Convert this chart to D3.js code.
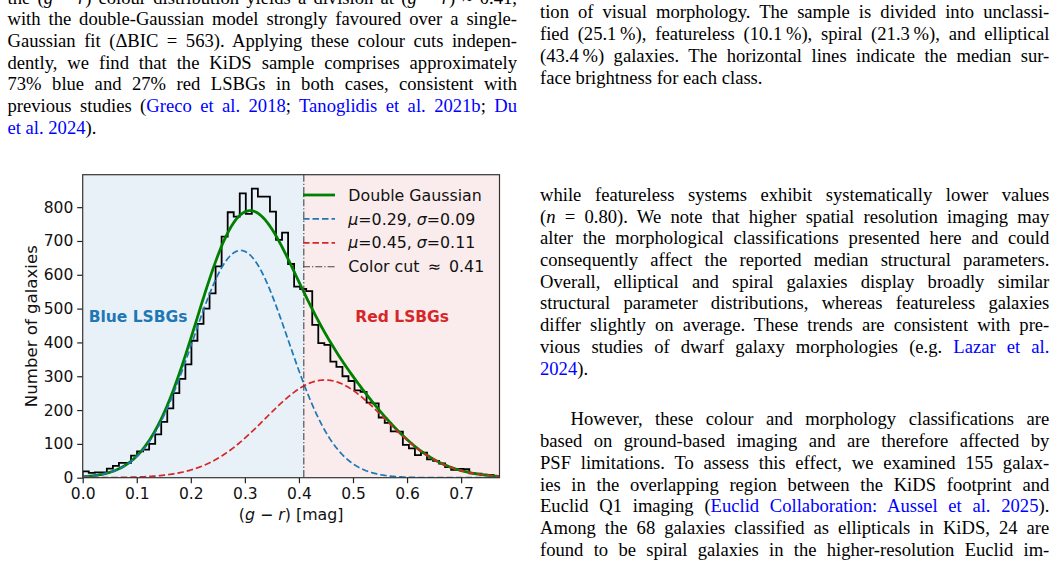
<!DOCTYPE html>
<html>
<head>
<meta charset="utf-8">
<title>KiDS LSBG colour distribution</title>
<script src="https://cdn.jsdelivr.net/npm/d3@7"></script>
<style>
  html, body { margin:0; padding:0; background:#fff; }
  body { width:1057px; height:561px; position:relative; overflow:hidden; }
  .ln { position:absolute; white-space:nowrap; font-family:"Liberation Serif","Times New Roman",serif;
        font-size:18.6px; line-height:21.7px; color:#000; }
  .ln .cite { color:#0000ff; }
  #fig { position:absolute; left:0; top:0; }
  #fig text { font-family:"DejaVu Sans", sans-serif; font-size:15.5px; fill:#111; }
</style>
</head>
<body>
<svg id="fig" width="1057" height="561"></svg>
<script>
// histogram counts per bin, (g-r) from 0 to 0.771, 69 bins
const counts = [19,14,16,16,27,35,44,44,65,78,
                83,100,128,165,205,250,292,335,405,455,
                500,545,625,713,785,772,841,780,855,831,
                831,787,703,725,632,565,558,552,452,398,
                393,343,328,300,286,258,254,222,220,178,
                162,137,136,97,87,67,74,54,50,42,
                31,23,26,25,13,12,9,8,4];
const histRange = [0, 0.771];
const xTicks = [0, 0.1, 0.2, 0.3, 0.4, 0.5, 0.6, 0.7];
const yTicks = [0, 100, 200, 300, 400, 500, 600, 700, 800];
// double gaussian fit components
const fitMu = [0.292, 0.448];
const fitSigma = [0.088, 0.110];
const fitAmp = [672, 289];
const colorCut = 0.409;
const legendLabels = ["Double Gaussian", "μ=0.29, σ=0.09", "μ=0.45, σ=0.11", "Color cut \u2009≈\u2009 0.41"];

// page text, one entry per printed line
const leftLines = [
  'the (<i>g</i> − <i>r</i>) colour distribution yields a division at (<i>g</i> − <i>r</i>) ≈ 0.41,',
  'with the double-Gaussian model strongly favoured over a single-',
  'Gaussian fit (ΔBIC = 563). Applying these colour cuts indepen-',
  'dently, we find that the KiDS sample comprises approximately',
  '73% blue and 27% red LSBGs in both cases, consistent with',
  'previous studies (<span class="cite">Greco et al. 2018</span>; <span class="cite">Tanoglidis et al. 2021b</span>; <span class="cite">Du</span>',
  '<span class="cite">et al. 2024</span>).'
];
const rightTop = [
  'tion of visual morphology. The sample is divided into unclassi-',
  'fied (25.1\u2009%), featureless (10.1\u2009%), spiral (21.3\u2009%), and elliptical',
  '(43.4\u2009%) galaxies. The horizontal lines indicate the median sur-',
  'face brightness for each class.'
];
const rightMid = [
  'while featureless systems exhibit systematically lower values',
  '(<i>n</i> = 0.80). We note that higher spatial resolution imaging may',
  'alter the morphological classifications presented here and could',
  'consequently affect the reported median structural parameters.',
  'Overall, elliptical and spiral galaxies display broadly similar',
  'structural parameter distributions, whereas featureless galaxies',
  'differ slightly on average. These trends are consistent with pre-',
  'vious studies of dwarf galaxy morphologies (e.g. <span class="cite">Lazar et al.</span>',
  '<span class="cite">2024</span>).'
];
const rightBot = [
  'However, these colour and morphology classifications are',
  'based on ground-based imaging and are therefore affected by',
  'PSF limitations. To assess this effect, we examined 155 galax-',
  'ies in the overlapping region between the KiDS footprint and',
  'Euclid Q1 imaging (<span class="cite">Euclid Collaboration: Aussel et al. 2025</span>).',
  'Among the 68 galaxies classified as ellipticals in KiDS, 24 are',
  'found to be spiral galaxies in the higher-resolution Euclid im-'
];

// text blocks
function block(lines, x0, w, base0, step, indentFirst, lastLoose) {
  lines.forEach((t, i) => {
    const ind = (i === 0 && indentFirst) ? indentFirst : 0;
    d3.select("body").append("div")
      .attr("class", "ln")
      .attr("data-w", w - ind)
      .attr("data-last", (lastLoose && i === lines.length - 1) ? 1 : 0)
      .style("left", (x0 + ind) + "px")
      .style("top", (base0 + i * step - 17.1) + "px")
      .html(t);
  });
}
block(leftLines, 7.5, 509.5, 25.4 - 21.65, 21.65, 0, true);
block(rightTop, 540, 509.3, 18.5, 21.7, 0, true);
block(rightMid, 540, 509.3, 201, 21.7, 0, true);
block(rightBot, 540, 509.3, 425.5, 21.7, 30.5, false);

function justify() {
  d3.selectAll(".ln").each(function() {
    if (this.dataset.last === "1") return;
    this.style.wordSpacing = "0px";
    const W = +this.dataset.w;
    const w = this.getBoundingClientRect().width;
    const n = (this.textContent.match(/ /g) || []).length;
    if (n) this.style.wordSpacing = ((W - w) / n) + "px";
  });
}

// chart
const svg = d3.select("#fig");
const plot = {left: 82.7, right: 499.5, top: 174.7, bottom: 477.7};
const x = d3.scaleLinear().domain(histRange).range([plot.left, plot.right]);
const y = d3.scaleLinear().domain([0, 896]).range([plot.bottom, plot.top]);

svg.append("clipPath").attr("id", "clip").append("rect")
   .attr("x", plot.left).attr("y", plot.top)
   .attr("width", plot.right - plot.left).attr("height", plot.bottom - plot.top);

const g = svg.append("g").attr("clip-path", "url(#clip)");

g.append("rect")
 .attr("x", x(histRange[0])).attr("y", plot.top)
 .attr("width", x(colorCut) - x(histRange[0])).attr("height", plot.bottom - plot.top)
 .attr("fill", "rgb(233,241,248)");
g.append("rect")
 .attr("x", x(colorCut)).attr("y", plot.top)
 .attr("width", x(histRange[1]) - x(colorCut)).attr("height", plot.bottom - plot.top)
 .attr("fill", "rgb(250,236,236)");

// step histogram
const bw = (histRange[1] - histRange[0]) / counts.length;
const steps = [[histRange[0], 0]];
counts.forEach((c, i) => {
  steps.push([histRange[0] + i * bw, c]);
  steps.push([histRange[0] + (i + 1) * bw, c]);
});
steps.push([histRange[0] + counts.length * bw, 0]);
const line = d3.line().x(d => x(d[0])).y(d => y(d[1]));
g.append("path").attr("d", line(steps))
 .attr("fill", "none").attr("stroke", "#000").attr("stroke-width", 1.8)
 .attr("stroke-linejoin", "miter");

// fitted gaussians
const gauss = (v, k) => fitAmp[k] * Math.exp(-((v - fitMu[k]) ** 2) / (2 * fitSigma[k] ** 2));
const gx = d3.range(histRange[0], histRange[1] + 0.001, 0.002);
g.append("path").attr("d", line(gx.map(v => [v, gauss(v, 0) + gauss(v, 1)])))
 .attr("fill", "none").attr("stroke", "green").attr("stroke-width", 2.8);
g.append("path").attr("d", line(gx.map(v => [v, gauss(v, 0)])))
 .attr("fill", "none").attr("stroke", "#1f77b4").attr("stroke-width", 1.7)
 .attr("stroke-dasharray", "6.5,3");
g.append("path").attr("d", line(gx.map(v => [v, gauss(v, 1)])))
 .attr("fill", "none").attr("stroke", "#d62728").attr("stroke-width", 1.7)
 .attr("stroke-dasharray", "6.5,3");

// colour cut
g.append("line")
 .attr("x1", x(colorCut)).attr("x2", x(colorCut))
 .attr("y1", plot.top).attr("y2", plot.bottom)
 .attr("stroke", "#444").attr("stroke-width", 1.1)
 .attr("stroke-dasharray", "7,2,1.3,2");

// region labels
svg.append("text").attr("x", x(0.1025)).attr("y", y(476)).attr("dy", "0.36em")
   .attr("text-anchor", "middle").style("font-weight", "bold").style("fill", "#1f77b4")
   .text("Blue LSBGs");
svg.append("text").attr("x", x(0.591)).attr("y", y(476)).attr("dy", "0.36em")
   .attr("text-anchor", "middle").style("font-weight", "bold").style("fill", "#d62728")
   .text("Red LSBGs");

// axes
const xAxis = d3.axisBottom(x).tickValues(xTicks).tickFormat(d3.format(".1f"))
  .tickSize(5.5).tickPadding(5.1);
const yAxis = d3.axisLeft(y).tickValues(yTicks).tickFormat(d3.format("d"))
  .tickSize(5.5).tickPadding(3.9);
const gxA = svg.append("g").attr("transform", `translate(0,${plot.bottom})`).call(xAxis);
const gyA = svg.append("g").attr("transform", `translate(${plot.left},0)`).call(yAxis);
[gxA, gyA].forEach(a => {
  a.select(".domain").remove();
  a.selectAll(".tick line").attr("stroke", "#222").attr("stroke-width", 1.2);
  a.attr("font-family", null).attr("font-size", null);
});

svg.append("rect")
   .attr("x", plot.left).attr("y", plot.top)
   .attr("width", plot.right - plot.left).attr("height", plot.bottom - plot.top)
   .attr("fill", "none").attr("stroke", "#333").attr("stroke-width", 1.2);

// axis titles
svg.append("text").attr("transform", `translate(36.5,${(plot.top + plot.bottom) / 2}) rotate(-90)`)
   .attr("text-anchor", "middle").style("font-size", "16.6px").text("Number of galaxies");
const xl = svg.append("text").attr("x", (plot.left + plot.right) / 2).attr("y", 519.5)
   .attr("text-anchor", "middle").style("font-size", "15.8px");
xl.append("tspan").text("(");
xl.append("tspan").style("font-style", "italic").text("g");
xl.append("tspan").text(" − ");
xl.append("tspan").style("font-style", "italic").text("r");
xl.append("tspan").text(") [mag]");

// legend
const legendStyles = [
  {stroke: "green", width: 2.8, dash: null},
  {stroke: "#1f77b4", width: 1.7, dash: "6.5,3"},
  {stroke: "#d62728", width: 1.7, dash: "6.5,3"},
  {stroke: "#444", width: 1.1, dash: "7,2,1.3,2"}
];
const leg = svg.append("g");
legendLabels.forEach((lab, i) => {
  const ly = plot.top + 20.3 + 23.9 * i;
  const s = legendStyles[i];
  leg.append("line").attr("x1", 303).attr("x2", 335).attr("y1", ly).attr("y2", ly)
     .attr("stroke", s.stroke).attr("stroke-width", s.width)
     .attr("stroke-dasharray", s.dash);
  const t = leg.append("text").attr("x", 348.3).attr("y", ly).attr("dy", "0.36em")
     .style("font-size", "15.8px");
  if (lab.indexOf("μ") === 0) {
    const parts = lab.match(/μ(=[^,]+), σ(=.+)/);
    t.append("tspan").style("font-style", "italic").text("μ");
    t.append("tspan").text(parts[1] + ", ");
    t.append("tspan").style("font-style", "italic").text("σ");
    t.append("tspan").text(parts[2]);
  } else {
    t.text(lab);
  }
});

justify();
if (document.fonts && document.fonts.ready) document.fonts.ready.then(justify);
</script>
</body>
</html>
